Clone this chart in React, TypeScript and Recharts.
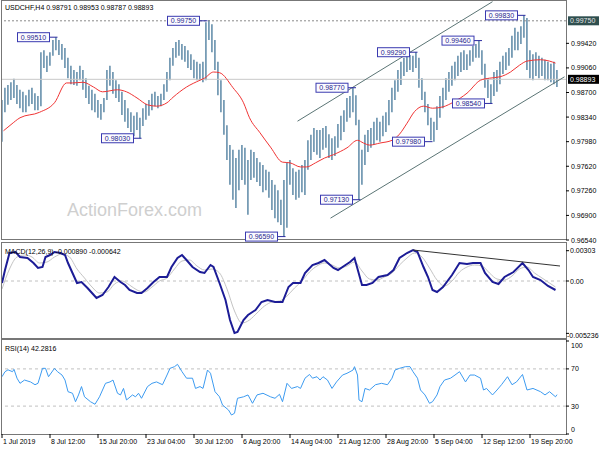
import React from 'react';
import { ComposedChart, Bar, Line, XAxis, YAxis, ReferenceLine, ReferenceDot } from 'recharts';

const FONT = '"Liberation Sans", Arial, sans-serif';

// H4 bars, one entry per two bars (bar index = 2 * position)
const barHigh = [
  0.9859, 0.9877, 0.9881, 0.9885, 0.9890, 0.9881, 0.9874, 0.9871, 0.9866, 0.9874,
  0.9877, 0.9869, 0.9865, 0.9929, 0.9932, 0.9924, 0.9929, 0.9947, 0.9951, 0.9947,
  0.9941, 0.9935, 0.9921, 0.9909, 0.9903, 0.9900, 0.9909, 0.9903, 0.9891, 0.9880,
  0.9874, 0.9868, 0.9859, 0.9853, 0.9862, 0.9903, 0.9909, 0.9900, 0.9888, 0.9882,
  0.9871, 0.9859, 0.9847, 0.9841, 0.9836, 0.9841, 0.9833, 0.9847, 0.9853, 0.9859,
  0.9868, 0.9871, 0.9865, 0.9868, 0.9882, 0.9900, 0.9921, 0.9935, 0.9944, 0.9947,
  0.9941, 0.9938, 0.9932, 0.9926, 0.9918, 0.9915, 0.9912, 0.9915, 0.9973, 0.9976,
  0.9970, 0.9947, 0.9915, 0.9888, 0.9859, 0.9822, 0.9793, 0.9786, 0.9774, 0.9786,
  0.9793, 0.9789, 0.9771, 0.9786, 0.9783, 0.9774, 0.9768, 0.9764, 0.9757, 0.9754,
  0.9742, 0.9735, 0.9727, 0.9713, 0.9742, 0.9768, 0.9771, 0.9759, 0.9754, 0.9757,
  0.9764, 0.9771, 0.9800, 0.9808, 0.9818, 0.9815, 0.9815, 0.9818, 0.9821, 0.9809,
  0.9803, 0.9806, 0.9824, 0.9836, 0.9844, 0.9862, 0.9865, 0.9877, 0.9866, 0.9830,
  0.9786, 0.9808, 0.9815, 0.9818, 0.9827, 0.9833, 0.9827, 0.9836, 0.9841, 0.9859,
  0.9877, 0.9888, 0.9903, 0.9915, 0.9921, 0.9925, 0.9925, 0.9924, 0.9929, 0.9921,
  0.9891, 0.9871, 0.9853, 0.9833, 0.9827, 0.9850, 0.9865, 0.9877, 0.9891, 0.9900,
  0.9909, 0.9915, 0.9924, 0.9929, 0.9932, 0.9926, 0.9932, 0.9938, 0.9941, 0.9946,
  0.9932, 0.9912, 0.9891, 0.9882, 0.9900, 0.9903, 0.9915, 0.9924, 0.9929, 0.9935,
  0.9953, 0.9965, 0.9959, 0.9967, 0.9983, 0.9979, 0.9932, 0.9926, 0.9929, 0.9924,
  0.9921, 0.9918, 0.9915, 0.9912, 0.9915, 0.9903,
];
const barLow = [
  0.9798, 0.9841, 0.9852, 0.9859, 0.9862, 0.9853, 0.9847, 0.9841, 0.9841, 0.9850,
  0.9853, 0.9844, 0.9844, 0.9850, 0.9906, 0.9900, 0.9909, 0.9924, 0.9932, 0.9925,
  0.9918, 0.9906, 0.9891, 0.9882, 0.9881, 0.9880, 0.9888, 0.9874, 0.9862, 0.9853,
  0.9844, 0.9841, 0.9833, 0.9830, 0.9841, 0.9859, 0.9880, 0.9868, 0.9862, 0.9856,
  0.9837, 0.9827, 0.9818, 0.9812, 0.9806, 0.9815, 0.9803, 0.9821, 0.9830, 0.9836,
  0.9844, 0.9850, 0.9847, 0.9850, 0.9859, 0.9871, 0.9888, 0.9909, 0.9921, 0.9924,
  0.9918, 0.9915, 0.9906, 0.9903, 0.9891, 0.9888, 0.9888, 0.9885, 0.9888, 0.9947,
  0.9929, 0.9903, 0.9866, 0.9841, 0.9808, 0.9771, 0.9735, 0.9713, 0.9701, 0.9727,
  0.9742, 0.9735, 0.9691, 0.9742, 0.9745, 0.9739, 0.9733, 0.9724, 0.9727, 0.9716,
  0.9698, 0.9686, 0.9680, 0.9676, 0.9659, 0.9672, 0.9735, 0.9720, 0.9713, 0.9716,
  0.9724, 0.9720, 0.9757, 0.9771, 0.9783, 0.9779, 0.9774, 0.9786, 0.9789, 0.9774,
  0.9771, 0.9777, 0.9789, 0.9800, 0.9812, 0.9827, 0.9833, 0.9841, 0.9822, 0.9713,
  0.9735, 0.9764, 0.9783, 0.9789, 0.9793, 0.9800, 0.9798, 0.9806, 0.9812, 0.9822,
  0.9841, 0.9859, 0.9871, 0.9881, 0.9894, 0.9900, 0.9903, 0.9900, 0.9906, 0.9877,
  0.9859, 0.9841, 0.9822, 0.9800, 0.9798, 0.9815, 0.9833, 0.9847, 0.9859, 0.9871,
  0.9880, 0.9888, 0.9894, 0.9900, 0.9903, 0.9903, 0.9909, 0.9915, 0.9921, 0.9921,
  0.9896, 0.9877, 0.9862, 0.9854, 0.9865, 0.9871, 0.9882, 0.9897, 0.9903, 0.9909,
  0.9921, 0.9932, 0.9932, 0.9941, 0.9950, 0.9903, 0.9891, 0.9888, 0.9894, 0.9891,
  0.9894, 0.9888, 0.9888, 0.9885, 0.9882, 0.9878,
];

// moving average [bar index, price]
const maLine: [number, number][] = [
  [1, 0.9814], [6, 0.9823], [12, 0.9833], [25, 0.9841], [35, 0.9855], [43, 0.9884], [47, 0.9884], [54, 0.9885],
  [61, 0.9878], [67, 0.9871], [77, 0.9874], [83, 0.9871], [90, 0.9862], [97, 0.9852],
  [103, 0.9850], [110, 0.9855], [114, 0.9863], [123, 0.9878], [132, 0.9888], [135, 0.9891],
  [141, 0.9900], [145, 0.9899], [154, 0.9877], [161, 0.9855], [165, 0.9833], [172, 0.9811],
  [179, 0.9790], [187, 0.9768], [192, 0.9767], [199, 0.9761], [203, 0.9761], [209, 0.9767],
  [215, 0.9774], [221, 0.9779], [230, 0.9789], [237, 0.9800], [241, 0.9796], [245, 0.9793],
  [252, 0.9796], [260, 0.9800], [265, 0.9809], [270, 0.9825], [275, 0.9842], [281, 0.9850],
  [287, 0.9847], [294, 0.9849], [301, 0.9856], [310, 0.9869], [319, 0.9888], [325, 0.9891],
  [332, 0.9893], [339, 0.9900], [345, 0.9910], [350, 0.9916], [359, 0.9918], [365, 0.9916],
  [369, 0.9913],
];

const macdMain: [number, number][] = [
  [0, -0.0002], [2, 0.0011], [5, 0.0028], [9, 0.0029], [12, 0.0024], [17, 0.0023], [21, 0.0018],
  [24, 0.0013], [27, 0.0014], [29, 0.0024], [32, 0.0026], [35, 0.0029], [39, 0.0028], [42, 0.0026],
  [44, 0.0018], [47, 0.0008], [50, -0.0002], [53, -0.0001], [57, -0.0007], [60, -0.0012],
  [63, -0.0017], [67, -0.0014], [71, -0.0006], [75, 0.0004], [79, -0.0001], [82, -0.0004],
  [85, -0.0009], [90, -0.0012], [93, -0.0012], [97, -0.0007], [101, -0.0001], [105, 0.0004],
  [110, 0.0004], [113, 0.0014], [117, 0.0023], [120, 0.0026], [123, 0.0021], [127, 0.0014],
  [132, 0.0009], [135, 0.0008], [139, 0.0016], [141, 0.0014], [145, -0.0002], [149, -0.0019],
  [152, -0.0039], [155, -0.0052], [157, -0.0051], [161, -0.0039], [164, -0.0034], [169, -0.0029],
  [173, -0.0021], [177, -0.0019], [182, -0.0021], [187, -0.0021], [191, -0.0006], [194, -0.0002],
  [199, -0.0002], [202, 0.0008], [207, 0.0016], [211, 0.0018], [215, 0.0021], [221, 0.0013],
  [224, 0.0011], [229, 0.0016], [232, 0.0019], [235, 0.0023], [240, -0.0004], [243, -0.0004],
  [247, -0.0002], [251, 0.0004], [257, 0.0006], [261, 0.0011], [265, 0.0023], [270, 0.0028],
  [274, 0.0031], [277, 0.0029], [281, 0.0014], [284, 0.0004], [287, -0.0009], [290, -0.0011],
  [294, -0.0006], [300, 0.0006], [305, 0.0018], [310, 0.0017], [314, 0.0018], [319, 0.0018],
  [322, 0.0008], [327, -0.0001], [331, -0.0003], [335, 0.0004], [341, 0.0009], [347, 0.0018],
  [351, 0.0011], [354, 0.0004], [359, 0.0001], [364, -0.0005], [369, -0.0009],
];

const macdSignal: [number, number][] = [
  [0, -0.0008], [5, 0.0012], [10, 0.0024], [15, 0.0026], [20, 0.0024], [25, 0.0018], [30, 0.0019],
  [35, 0.0024], [40, 0.0027], [45, 0.0024], [50, 0.0012], [55, 0.0003], [60, -0.0006], [65, -0.0012],
  [70, -0.0011], [75, -0.0003], [80, 0.0000], [85, -0.0004], [90, -0.0009], [95, -0.0011],
  [100, -0.0006], [105, 0.0000], [110, 0.0003], [115, 0.0012], [120, 0.0020], [125, 0.0021],
  [130, 0.0015], [135, 0.0011], [140, 0.0012], [145, 0.0008], [150, -0.0008], [155, -0.0030],
  [160, -0.0042], [165, -0.0039], [170, -0.0032], [175, -0.0025], [180, -0.0021], [185, -0.0020],
  [190, -0.0015], [195, -0.0007], [200, 0.0000], [205, 0.0009], [210, 0.0015], [215, 0.0018],
  [220, 0.0016], [225, 0.0013], [230, 0.0015], [235, 0.0019], [240, 0.0010], [245, 0.0002],
  [250, 0.0001], [255, 0.0004], [260, 0.0008], [265, 0.0016], [270, 0.0023], [275, 0.0028],
  [280, 0.0024], [285, 0.0013], [290, 0.0001], [295, -0.0005], [300, 0.0000], [305, 0.0009],
  [310, 0.0014], [315, 0.0016], [320, 0.0015], [325, 0.0008], [330, 0.0002], [335, 0.0001],
  [340, 0.0005], [345, 0.0012], [350, 0.0014], [355, 0.0008], [360, 0.0003], [365, -0.0002],
  [369, -0.0006],
];

const rsiLine: [number, number][] = [
  [0, 61.6], [2, 67], [4, 69], [7, 67], [8, 69.5], [10, 60], [12, 54.5], [15, 58], [19, 56], [22, 53],
  [24, 54.5], [27, 70.6], [29, 70.6], [31, 61.6], [35, 70.6], [37, 67], [40, 63.4], [42, 58], [44, 45.5],
  [47, 43.8], [49, 34.7], [51, 42], [53, 51], [55, 40], [59, 34.7], [62, 32], [65, 40], [69, 54.5],
  [72, 56], [74, 58], [77, 43.8], [79, 42], [81, 49], [83, 36.6], [87, 42], [89, 40], [91, 43.8],
  [93, 38.4], [97, 51], [100, 54.5], [103, 56], [107, 53], [110, 63.4], [112, 70.6], [115, 72.4],
  [117, 74.9], [120, 67], [123, 60], [127, 60], [129, 49], [132, 51], [134, 49], [137, 68.8],
  [139, 65.3], [142, 45.5], [145, 40], [147, 31.2], [151, 25.8], [153, 20.4], [155, 22.3], [157, 38.4],
  [161, 40], [164, 42], [167, 33], [170, 42], [174, 43.8], [179, 40], [182, 38.4], [185, 42.7],
  [187, 34.7], [190, 54.5], [193, 49], [197, 51], [199, 49], [202, 60], [205, 64], [207, 60],
  [210, 61.6], [212, 58], [214, 61.6], [217, 58], [220, 49], [223, 56], [227, 63.4], [230, 65.3],
  [232, 67], [234, 68.8], [235, 72.4], [237, 63.4], [238, 36.6], [240, 34.7], [242, 49], [245, 47.3],
  [249, 53], [253, 54.5], [257, 53], [260, 60], [262, 68.8], [265, 70.6], [269, 72.4], [272, 72.4],
  [274, 67], [277, 60], [279, 47.3], [282, 42], [285, 33], [287, 34.7], [290, 42], [292, 51],
  [295, 58], [299, 60], [302, 63.4], [305, 67], [309, 56], [312, 63.4], [315, 63.4], [319, 60],
  [321, 47.3], [323, 49], [327, 42], [330, 47.3], [333, 53], [337, 61.6], [340, 53], [343, 56],
  [347, 64], [350, 47.3], [354, 49], [359, 45.5], [362, 42], [365, 45.5], [369, 40], [370, 42.3],
];

const priceTicks = [0.9654, 0.969, 0.9726, 0.9762, 0.9798, 0.9834, 0.987, 0.9906, 0.9942];
const macdTicks = [-0.005236, 0, 0.00303];
const rsiTicks = [0, 30, 70, 100];
const xTickIdx = [0, 32, 64, 96, 128, 160, 192, 224, 256, 288, 320, 352];
const xTickLabels = [
  '1 Jul 2019', '8 Jul 12:00', '15 Jul 20:00', '23 Jul 04:00', '30 Jul 12:00', '6 Aug 20:00',
  '14 Aug 04:00', '21 Aug 12:00', '28 Aug 20:00', '5 Sep 04:00', '12 Sep 12:00', '19 Sep 20:00',
];

const noteIdx = [37, 93, 137, 189, 236, 239, 277, 287, 320, 327, 349];
const notePrice = [0.9951, 0.9803, 0.9975, 0.9659, 0.9877, 0.9713, 0.9929, 0.9798, 0.9946, 0.9854, 0.9983];

const upperChannel = [{ x: 197, y: 0.9828 }, { x: 327, y: 1.0003 }];
const lowerChannel = [{ x: 219, y: 0.9686 }, { x: 375, y: 0.9893 }];
const macdTrend = [{ x: 274, y: 0.0031 }, { x: 372, y: 0.0015 }];

const lastPrice = 0.98893;
const highLevel = 0.9975;

const bars = barHigh.map((h, k) => ({ i: k * 2, hl: [barLow[k], h] }));
const toPts = (arr: [number, number][]) => arr.map(([i, v]) => ({ i, v }));

const tickText = (
  fmt: (v: number) => string,
  shift: (v: number) => number = () => 0,
  xoff: (v: number) => number = () => 5,
) => (p: any) => {
  const { x, y, payload } = p;
  return (
    <g>
      <line x1={x} y1={y} x2={x + 3} y2={y} stroke="#000" strokeWidth={1} />
      <text x={x + xoff(payload.value)} y={y + 2.5 + shift(payload.value)} fontSize={7} fontFamily={FONT} fill="#000">
        {fmt(payload.value)}
      </text>
    </g>
  );
};

const noteShape = (text: string) => (p: any) => {
  const { cx, cy } = p;
  const w = 32;
  const h = 9;
  const gap = 8;
  const x0 = cx - gap - w;
  return (
    <g>
      <line x1={cx - gap} y1={cy} x2={cx} y2={cy} stroke="#2a2aa0" strokeWidth={1} />
      <rect x={x0} y={cy - h / 2} width={w} height={h} fill="#fbfbff" stroke="#3a3ab0" strokeWidth={1} />
      <text x={x0 + w / 2} y={cy + 2.6} textAnchor="middle" fontSize={7} fontFamily={FONT} fill="#1e1e8c">
        {text}
      </text>
    </g>
  );
};

const sideBox = (text: string, bg: string, fg: string) => (p: any) => {
  const { cx, cy } = p;
  return (
    <g>
      <rect x={cx + 2} y={cy - 4.5} width={31} height={9} fill={bg} />
      <text x={cx + 4} y={cy + 2.5} fontSize={7} fontFamily={FONT} fill={fg}>
        {text}
      </text>
    </g>
  );
};

const xTick = (p: any) => {
  const { x, y, payload } = p;
  const k = xTickIdx.indexOf(payload.value);
  return (
    <g>
      <line x1={x} y1={y} x2={x} y2={y + 4} stroke="#000" strokeWidth={1} />
      <text x={x + 1} y={y + 9.5} fontSize={7} fontFamily={FONT} fill="#000">
        {xTickLabels[k]}
      </text>
    </g>
  );
};

const abs: React.CSSProperties = { position: 'absolute', left: 0, top: 0 };
const frame = (top: number, height: number): React.CSSProperties => ({
  position: 'absolute', left: 1, top, width: 566, height, border: '1px solid #777', boxSizing: 'border-box',
});
const label = (left: number, top: number): React.CSSProperties => ({
  position: 'absolute', left, top, fontSize: 7, lineHeight: '7px', fontFamily: FONT, color: '#000', whiteSpace: 'nowrap',
});

export default function App() {
  return (
    <div style={{ position: 'fixed', left: 0, top: 0, width: 600, height: 450, background: '#fff', overflow: 'hidden' }}>
      <div style={frame(0, 240)} />
      <div style={frame(242, 97)} />
      <div style={frame(339, 96)} />
      <div style={{ position: 'absolute', left: 67, top: 201, fontSize: 18, lineHeight: '18px', fontFamily: FONT, color: '#cfcfcf' }}>
        ActionForex.com
      </div>

      <div style={abs}>
        <ComposedChart width={600} height={450} data={bars} margin={{ top: 1, right: 0, bottom: 210, left: 2 }}>
          <XAxis type="number" dataKey="i" domain={[0, 376]} hide allowDataOverflow />
          <YAxis orientation="right" width={34} domain={[0.9654, 1.0004]} ticks={priceTicks} interval={0}
            allowDataOverflow axisLine={false} tickLine={false} tickSize={0} tickMargin={0}
            tick={tickText((v) => v.toFixed(5))} />
          <ReferenceLine y={lastPrice} stroke="#c8c8c8" strokeWidth={1} />
          <ReferenceLine y={highLevel} stroke="#8a8a8a" strokeDasharray="2 2" strokeWidth={1} />
          <Bar dataKey="hl" barSize={2} fill="#4a7b9c" isAnimationActive={false} />
          <Line data={toPts(maLine)} dataKey="v" type="monotone" stroke="#f03434" strokeWidth={1} dot={false} isAnimationActive={false} />
          <ReferenceLine segment={upperChannel} stroke="#5b7575" strokeWidth={1} />
          <ReferenceLine segment={lowerChannel} stroke="#5b7575" strokeWidth={1} />
          {noteIdx.map((ix, k) => (
            <ReferenceDot key={k} x={ix} y={notePrice[k]} r={0} shape={noteShape(notePrice[k].toFixed(5))} />
          ))}
          <ReferenceDot x={376} y={highLevel} r={0} shape={sideBox(highLevel.toFixed(5), '#2f4f4f', '#e6e6e6')} />
          <ReferenceDot x={376} y={lastPrice} r={0} shape={sideBox(lastPrice.toFixed(5), '#000', '#fff')} />
        </ComposedChart>
      </div>

      <div style={abs}>
        <ComposedChart width={600} height={450} margin={{ top: 244, right: 0, bottom: 113, left: 2 }}>
          <XAxis type="number" dataKey="i" domain={[0, 376]} hide allowDataOverflow />
          <YAxis orientation="right" width={34} domain={[-0.0056, 0.0037]} ticks={macdTicks} interval={0}
            allowDataOverflow axisLine={false} tickLine={false} tickSize={0} tickMargin={0}
            tick={tickText(
              (v) => (v === 0 ? '0.00' : v < -0.005 ? v.toFixed(6) : v.toFixed(5)),
              (v) => (v < -0.005 ? 2 : 0),
              (v) => (v < -0.005 ? 1 : 4),
            )} />
          <ReferenceLine y={0} stroke="#c0c0c0" strokeDasharray="3 3" />
          <Line data={toPts(macdSignal)} dataKey="v" type="monotone" stroke="#c4c4c4" strokeWidth={1} dot={false} isAnimationActive={false} />
          <Line data={toPts(macdMain)} dataKey="v" type="linear" stroke="#1c1c96" strokeWidth={2} dot={false} isAnimationActive={false} />
          <ReferenceLine segment={macdTrend} stroke="#333" strokeWidth={1} />
        </ComposedChart>
      </div>

      <div style={abs}>
        <ComposedChart width={600} height={450} margin={{ top: 341, right: 0, bottom: 0, left: 2 }}>
          <XAxis type="number" dataKey="i" domain={[0, 376]} ticks={xTickIdx} interval={0} height={16}
            allowDataOverflow axisLine={false} tickLine={false} tickSize={0} tickMargin={0} tick={xTick} />
          <YAxis orientation="right" width={34} domain={[0, 100]} ticks={rsiTicks} interval={0}
            axisLine={false} tickLine={false} tickSize={0} tickMargin={0}
            tick={tickText((v) => String(v), (v) => (v === 100 ? 4 : v === 0 ? -5 : 0))} />
          <ReferenceLine y={70} stroke="#c0c0c0" strokeDasharray="3 3" />
          <ReferenceLine y={30} stroke="#c0c0c0" strokeDasharray="3 3" />
          <Line data={toPts(rsiLine)} dataKey="v" type="linear" stroke="#3d9bf0" strokeWidth={1} dot={false} isAnimationActive={false} />
        </ComposedChart>
      </div>

      <div style={label(5, 4)}>USDCHF,H4  0.98791 0.98953 0.98787 0.98893</div>
      <div style={label(5, 248)}>MACD(12,26,9) -0.000890 -0.000642</div>
      <div style={label(5, 345)}>RSI(14) 42.2816</div>
    </div>
  );
}
